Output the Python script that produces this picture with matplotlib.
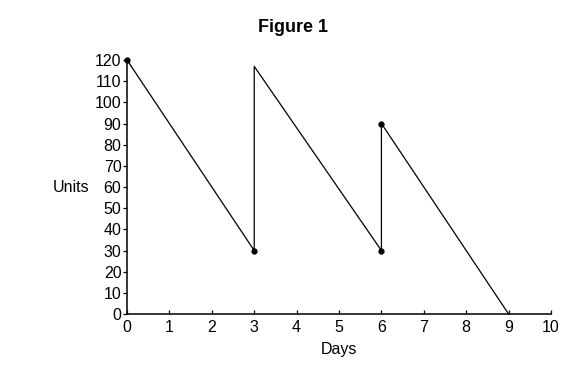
import matplotlib.pyplot as plt

plt.rcParams['font.family'] = ['Liberation Sans', 'DejaVu Sans']

# stock level over time
days = [0, 3, 3, 6, 6, 9]
units = [120, 30, 117, 30, 90, 0]

# points marked with a dot
dot_days = [0, 3, 6, 6]
dot_units = [120, 30, 30, 90]

x_ticks = list(range(0, 11))
y_ticks = list(range(0, 121, 10))

fig = plt.figure(figsize=(5.87, 3.77), dpi=100)
ax = fig.add_axes([0.2164, 0.167, 0.7223, 0.6738])

ax.plot(days, units, color="black", linewidth=0.9, clip_on=False)
ax.plot(dot_days, dot_units, "o", color="black", markersize=3.5, clip_on=False)

ax.set_xlim(0, 10)
ax.set_ylim(0, 120)
ax.set_xticks(x_ticks)
ax.set_yticks(y_ticks)

ax.spines["top"].set_visible(False)
ax.spines["right"].set_visible(False)
ax.spines["left"].set_linewidth(1.1)
ax.spines["bottom"].set_linewidth(1.1)

ax.tick_params(axis="x", direction="in", length=3, width=0.9, labelsize=11.5, pad=4)
ax.tick_params(axis="y", direction="out", length=3, width=0.9, labelsize=11.5, pad=1)

ax.set_xlabel("Days", fontsize=11.5, labelpad=5)
ax.set_ylabel("Units", fontsize=11.5, rotation=0, va="center", labelpad=0)
ax.yaxis.set_label_coords(-0.132, 0.5)

fig.text(0.5, 0.928, "Figure 1", ha="center", va="center",
         fontsize=13, fontweight="bold")

fig.savefig("out.png", dpi=100)
